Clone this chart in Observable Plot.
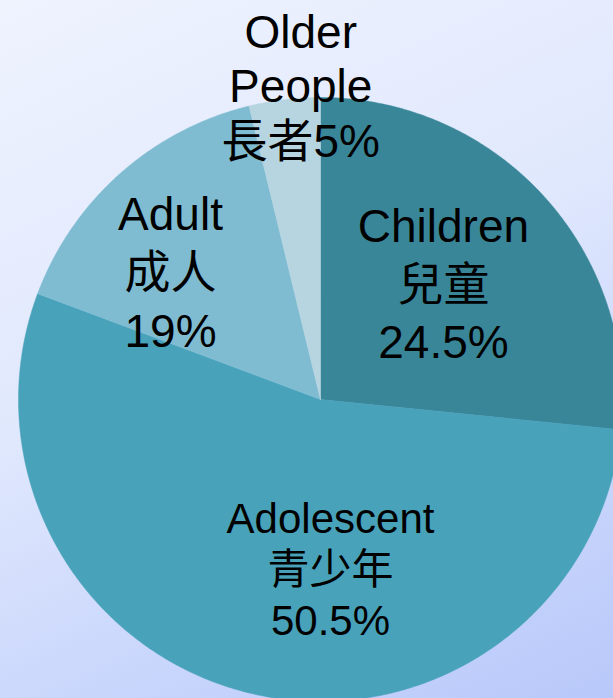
<!DOCTYPE html>
<html>
<head>
<meta charset="utf-8">
<script src="https://cdn.jsdelivr.net/npm/d3@7"></script>
<script src="https://cdn.jsdelivr.net/npm/@observablehq/plot@0.6"></script>
<style>
  html, body { margin: 0; padding: 0; }
  #chart {
    width: 613px; height: 698px; overflow: hidden;
    background: linear-gradient(155deg, #eff3fe 0%, #e0e8fd 45%, #c9d6fc 75%, #b8c8f9 100%);
  }
</style>
</head>
<body>
<div id="chart"></div>
<script>
// ---- data ----
const names = ["Children", "Adolescent", "Adult", "Older People"];
const enLabels = ["Children", "Adolescent", "Adult", "Older\nPeople"];
const zhLabels = ["兒童", "青少年", "成人", "長者"];
const pctLabels = ["24.5%", "50.5%", "19%", "5%"];
// slice sizes as drawn (%)
const shares = [26.6, 54.1, 15.5, 3.8];
const colors = ["#3a8699", "#48a2ba", "#7fbcd2", "#b6d5e0"];

// ---- label layout (angle clockwise from top in degrees, radius as fraction) ----
const labelLayout = [
  {angle: 46.2, r: 0.564, fontSize: 46, lineHeight: 1.26, inline: false},
  {angle: 176.6, r: 0.559, fontSize: 42, lineHeight: 1.214, inline: false},
  {angle: 310.9, r: 0.657, fontSize: 46, lineHeight: 1.276, inline: false},
  {angle: 356.4, r: 1.043, fontSize: 46, lineHeight: 1.178, inline: true}
];

const W = 613, H = 698, cx = 320, cy = 399, R = 302;

const data = names.map((name, i) => ({name, share: shares[i]}));
const arcs = d3.pie().value(d => d.share).sort(null)(data);

// polygon points for each slice (unit radius)
const pts = [];
for (const a of arcs) {
  pts.push({name: a.data.name, x: 0, y: 0});
  const n = Math.max(8, Math.ceil((a.endAngle - a.startAngle) / 0.01));
  for (let k = 0; k <= n; k++) {
    const t = a.startAngle + (a.endAngle - a.startAngle) * k / n;
    pts.push({name: a.data.name, x: Math.sin(t), y: Math.cos(t)});
  }
  pts.push({name: a.data.name, x: 0, y: 0});
}

const font = '"Liberation Sans", Arial, "Noto Sans CJK TC", sans-serif';

const textMarks = names.map((name, i) => {
  const L = labelLayout[i];
  const t = L.angle * Math.PI / 180;
  const text = L.inline
    ? `${enLabels[i]}\n${zhLabels[i]}${pctLabels[i]}`
    : `${enLabels[i]}\n${zhLabels[i]}\n${pctLabels[i]}`;
  return Plot.text([{x: L.r * Math.sin(t), y: L.r * Math.cos(t), text}], {
    x: "x", y: "y", text: "text",
    fontSize: L.fontSize, lineHeight: L.lineHeight,
    fill: "black", fontFamily: font, textAnchor: "middle", lineAnchor: "middle"
  });
});

const plot = Plot.plot({
  width: W, height: H,
  marginTop: 0, marginRight: 0, marginBottom: 0, marginLeft: 0,
  style: {background: "transparent", overflow: "hidden", fontFamily: font},
  x: {domain: [-cx / R, (W - cx) / R], range: [0, W], axis: null},
  y: {domain: [-(H - cy) / R, cy / R], range: [H, 0], axis: null},
  color: {type: "ordinal", domain: names, range: colors},
  marks: [
    Plot.line(pts, {x: "x", y: "y", z: "name", fill: "name", stroke: "name", strokeWidth: 0.5, curve: "linear"}),
    ...textMarks
  ]
});
document.getElementById("chart").appendChild(plot);
</script>
</body>
</html>
